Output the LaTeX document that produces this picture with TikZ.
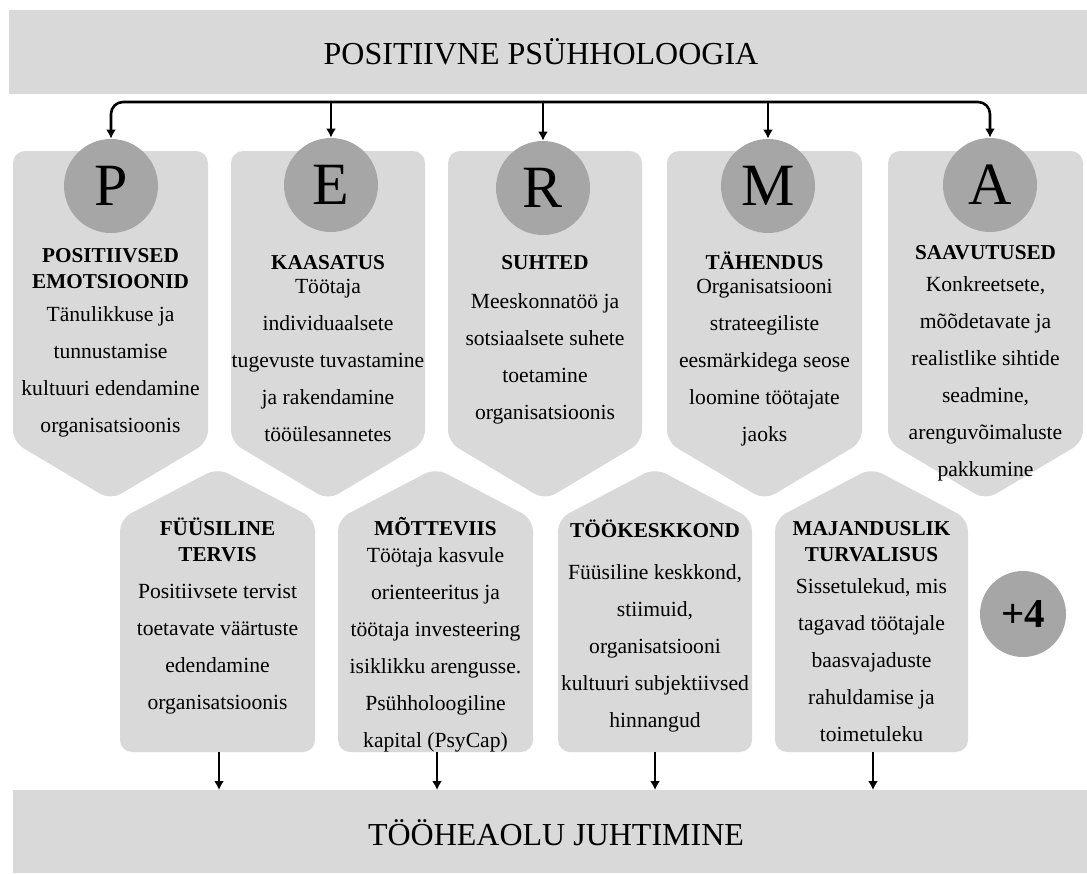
\documentclass[tikz,border=0pt]{standalone}
\usepackage{fontspec}
\setmainfont{Liberation Serif}
\usetikzlibrary{arrows.meta}

\definecolor{boxgray}{HTML}{D9D9D9}
\definecolor{dotgray}{HTML}{A6A6A6}

\tikzset{
  arr/.style={line width=1.3pt,-{Latex[length=4.5pt,width=5pt]}},
  letter/.style={circle,fill=dotgray,inner sep=0pt,minimum size=47pt,font=\fontsize{30}{30}\selectfont},
  bartext/.style={anchor=base,inner sep=0pt,font=\fontsize{16}{16}\selectfont},
  headtext/.style={anchor=north,align=center,inner sep=0pt,font=\fontsize{10.6}{13}\selectfont\bfseries},
  bodytext/.style={anchor=north,align=center,inner sep=0pt,font=\fontsize{10.8}{18.5}\selectfont},
}

\begin{document}
\begin{tikzpicture}[x=0.5pt,y=-0.5pt]
            \def\ytop{151}%上排方框顶边
            \def\yside{442}%上排方框侧边下端
            \def\ytip{500}%上排方框尖端
            \def\yapex{468}%下排方框尖端
            \def\yup{519}%下排方框侧边上端
            \def\ybot{752}%下排方框底边
            \useasboundingbox (0,0) rectangle (1087,873);
            %上下两条横栏
            \fill[boxgray] (9,10) rectangle (1087,94);
            \fill[boxgray] (13,790) rectangle (1087,873);
            \node[bartext] (top) at (541,64) {POSITIIVNE PSÜHHOLOOGIA};
            \node[bartext] (goal) at (556,845) {TÖÖHEAOLU JUHTIMINE};
            \coordinate (goalbar) at (550,790); %底栏上边
            %上排五边形, 尖端朝下
            \fill[boxgray,rounded corners=6pt] (13,\ytop) -- (208,\ytop) -- (208,\yside) -- (110.5,\ytip) -- (13,\yside) -- cycle;
            \fill[boxgray,rounded corners=6pt] (231,\ytop) -- (425,\ytop) -- (425,\yside) -- (328,\ytip) -- (231,\yside) -- cycle;
            \fill[boxgray,rounded corners=6pt] (448,\ytop) -- (642,\ytop) -- (642,\yside) -- (545,\ytip) -- (448,\yside) -- cycle;
            \fill[boxgray,rounded corners=6pt] (667,\ytop) -- (862,\ytop) -- (862,\yside) -- (764.5,\ytip) -- (667,\yside) -- cycle;
            \fill[boxgray,rounded corners=6pt] (888,\ytop) -- (1083,\ytop) -- (1083,\yside) -- (985.5,\ytip) -- (888,\yside) -- cycle;
            %下排四个五边形, 尖端朝上
            \fill[boxgray,rounded corners=6pt] (120,\ybot) -- (120,\yup) -- (217.5,\yapex) -- (315,\yup) -- (315,\ybot) -- cycle;
            \fill[boxgray,rounded corners=6pt] (338,\ybot) -- (338,\yup) -- (435.5,\yapex) -- (533,\yup) -- (533,\ybot) -- cycle;
            \fill[boxgray,rounded corners=6pt] (558,\ybot) -- (558,\yup) -- (655,\yapex) -- (752,\yup) -- (752,\ybot) -- cycle;
            \fill[boxgray,rounded corners=6pt] (775,\ybot) -- (775,\yup) -- (871.5,\yapex) -- (968,\yup) -- (968,\ybot) -- cycle;
            %PERMA 圆圈
            \node[letter] (p) at (111,186) {P};
            \node[letter] (e) at (331,185) {E};
            \node[letter] (r) at (543,188) {R};
            \node[letter] (m) at (768,186) {M};
            \node[letter] (a) at (990,185) {A};
            \node[letter,minimum size=43pt,font=\fontsize{20.5}{20.5}\selectfont\bfseries] (more) at (1023,614) {+4};
            %从标题分出的箭头
            \coordinate (bus) at (543,102);
            \draw[arr,rounded corners=6pt] (bus) -| (p.north);
            \draw[arr,rounded corners=6pt] (bus) -| (a.north);
            \draw[arr] (bus -| e.north) -- (e.north);
            \draw[arr] (bus) -- (r.north);
            \draw[arr] (bus -| m.north) -- (m.north);
            %上排文字
            \node[headtext] (ph) at (110.5,248) {POSITIIVSED\\EMOTSIOONID};
            \node[bodytext] (pt) at (110.5,306) {Tänulikkuse ja\\tunnustamise\\kultuuri edendamine\\organisatsioonis};
            \node[headtext] (eh) at (328,255) {KAASATUS};
            \node[bodytext] (et) at (328,279) {Töötaja\\individuaalsete\\tugevuste tuvastamine\\ja rakendamine\\tööülesannetes};
            \node[headtext] (rh) at (545,255) {SUHTED};
            \node[bodytext] (rt) at (545,293) {Meeskonnatöö ja\\sotsiaalsete suhete\\toetamine\\organisatsioonis};
            \node[headtext] (mh) at (764.5,251) {TÄHENDUS};
            \node[bodytext] (mt) at (764.5,279) {Organisatsiooni\\strateegiliste\\eesmärkidega seose\\loomine töötajate\\jaoks};
            \node[headtext] (ah) at (985.5,245) {SAAVUTUSED};
            \node[bodytext] (at) at (985.5,276) {Konkreetsete,\\mõõdetavate ja\\realistlike sihtide\\seadmine,\\arenguvõimaluste\\pakkumine};
            %下排文字
            \node[headtext] (fh) at (217.5,517) {FÜÜSILINE\\TERVIS};
            \node[bodytext] (ft) at (217.5,584) {Positiivsete tervist\\toetavate väärtuste\\edendamine\\organisatsioonis};
            \node[headtext] (vh) at (435.5,517) {MÕTTEVIIS};
            \node[bodytext] (vt) at (435.5,547) {Töötaja kasvule\\orienteeritus ja\\töötaja investeering\\isiklikku arengusse.\\Psühholoogiline\\kapital (PsyCap)};
            \node[headtext] (kh) at (655,519) {TÖÖKESKKOND};
            \node[bodytext] (kt) at (655,564) {Füüsiline keskkond,\\stiimuid,\\organisatsiooni\\kultuuri subjektiivsed\\hinnangud};
            \node[headtext] (jh) at (871.5,521) {MAJANDUSLIK\\TURVALISUS};
            \node[bodytext] (jt) at (871.5,578) {Sissetulekud, mis\\tagavad töötajale\\baasvajaduste\\rahuldamise ja\\toimetuleku};
            %通向底栏的箭头
            \coordinate (fb) at (219,\ybot);
            \coordinate (vb) at (437,\ybot);
            \coordinate (kb) at (655,\ybot);
            \coordinate (jb) at (873,\ybot);
            \draw[arr] (fb) -- (fb |- goalbar);
            \draw[arr] (vb) -- (vb |- goalbar);
            \draw[arr] (kb) -- (kb |- goalbar);
            \draw[arr] (jb) -- (jb |- goalbar);
\end{tikzpicture}
\end{document}
